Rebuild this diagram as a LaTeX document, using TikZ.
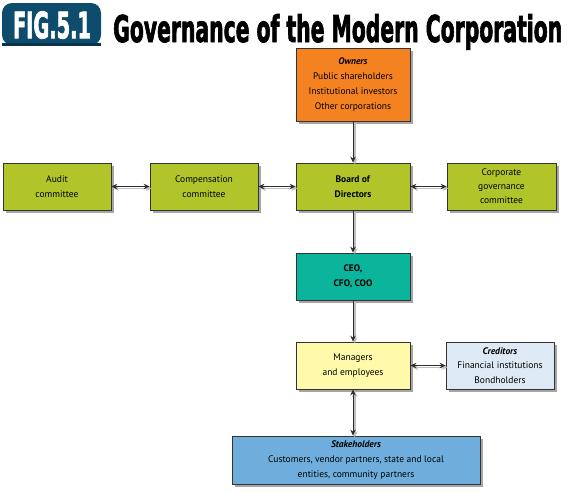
\documentclass[tikz,border=0pt]{standalone}
\usepackage{fontspec}
\setmainfont{PT Sans}
\newfontfamily\titlefont[FakeBold=2.5]{DejaVu Sans Condensed Bold}
\usetikzlibrary{arrows.meta,shadows}
\definecolor{cOrange}{HTML}{F58220}
\definecolor{cGreen}{HTML}{B1C52A}
\definecolor{cTeal}{HTML}{0BB59B}
\definecolor{cYellow}{HTML}{FFFAAA}
\definecolor{cPale}{HTML}{DEE9F6}
\definecolor{cBlue}{HTML}{6FAEDC}
\definecolor{cBadge}{HTML}{0D4C6C}
\definecolor{cLine}{HTML}{2E2E2E}
\tikzset{
  box/.style={draw=black!80, line width=0.8pt, align=center, inner sep=2pt,
    font=\fontsize{9.5}{15}\selectfont,
    drop shadow={shadow xshift=2.5pt, shadow yshift=-2.5pt, fill=black, opacity=0.35}},
  conn/.style={draw=cLine, line width=0.9pt,
    preaction={draw=black!25, line width=1.6pt, transform canvas={shift={(1.8pt,-1.8pt)}}}},
  one/.style={conn, -{Stealth[length=6pt,width=5.5pt]}},
  two/.style={conn, {Stealth[length=6pt,width=5.5pt]}-{Stealth[length=6pt,width=5.5pt]}},
}
\begin{document}
\begin{tikzpicture}[x=1pt,y=-1pt]
\useasboundingbox (0,0) rectangle (572,491);
% badge
\fill[cBadge, rounded corners=10pt] (2,45) -- (2,3) -- (101,3) -- (101,45) -- cycle;
\fill[cBadge!70!black] (2,43) rectangle (101,45.5);
\node[text=white, inner sep=0] (fig) at (52,25) {\resizebox{78pt}{27pt}{\titlefont FIG.5.1}};
\node[anchor=base west, inner sep=0] (title) at (113,42) {\resizebox{449pt}{28pt}{\titlefont Governance of the Modern Corporation}};
% boxes
\node[box, fill=cOrange, minimum width=114pt, minimum height=73pt] (own) at (353,84.5)
  {\textbf{\textit{Owners}}\\Public shareholders\\Institutional investors\\Other corporations};
\node[box, fill=cGreen, minimum width=108pt, minimum height=47pt] (aud) at (57,186.5) {Audit\\committee};
\node[box, fill=cGreen, minimum width=108pt, minimum height=47pt] (comp) at (204,186.5) {Compensation\\committee};
\node[box, fill=cGreen, minimum width=114pt, minimum height=47pt] (board) at (353,186.5) {\textbf{Board of}\\\textbf{Directors}};
\node[box, fill=cGreen, minimum width=109pt, minimum height=47pt, font=\fontsize{9.5}{14}\selectfont] (corp) at (501.5,186.5) {Corporate\\governance\\committee};
\node[box, fill=cTeal, minimum width=114pt, minimum height=47pt] (ceo) at (353,276.5) {\textbf{CEO,}\\\textbf{CFO, COO}};
\node[box, fill=cYellow, minimum width=114pt, minimum height=47pt] (man) at (353,365.5) {Managers\\and employees};
\node[box, fill=cPale, minimum width=108pt, minimum height=47pt, font=\fontsize{9.5}{14.5}\selectfont] (cred) at (500,365.5) {\textbf{\textit{Creditors}}\\Financial institutions\\Bondholders};
\node[box, fill=cBlue, minimum width=248pt, minimum height=48pt] (stake) at (356,460)
  {\textbf{\textit{Stakeholders}}\\Customers, vendor partners, state and local\\entities, community partners};
% connectors
\draw[one] (own.south) -- (board.north);
\draw[one] (board.south) -- (ceo.north);
\draw[one] (ceo.south) -- (man.north);
\draw[two] (aud.east) -- (comp.west);
\draw[two] (comp.east) -- (board.west);
\draw[two] (board.east) -- (corp.west);
\draw[two] (man.east) -- (cred.west);
\draw[two] (man.south) -- (man.south |- stake.north);
\end{tikzpicture}
\end{document}
